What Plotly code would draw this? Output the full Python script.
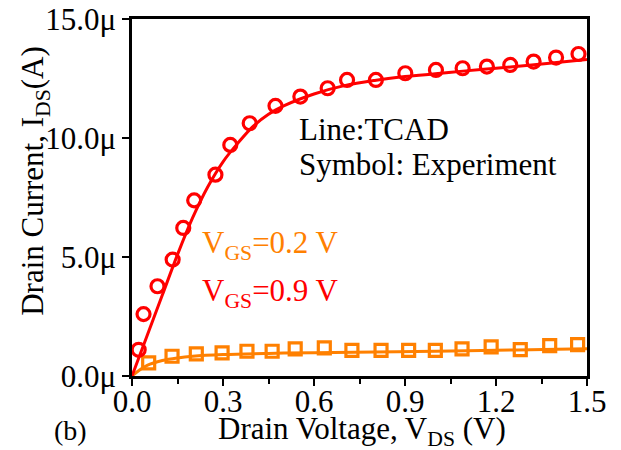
import plotly.graph_objects as go

# Experimental data (symbols)
vds_exp_09 = [0.022, 0.038, 0.084, 0.134, 0.169, 0.205, 0.275, 0.324, 0.388, 0.473, 0.555,
              0.645, 0.709, 0.804, 0.901, 1.002, 1.09, 1.17, 1.247, 1.324, 1.398, 1.472]
ids_exp_09 = [1.1, 2.6, 3.77, 4.89, 6.22, 7.38, 8.46, 9.71, 10.62, 11.35, 11.74,
              12.09, 12.44, 12.44, 12.72, 12.86, 12.93, 13.0, 13.07, 13.21, 13.38, 13.53]

vds_exp_02 = [0.055, 0.132, 0.212, 0.297, 0.379, 0.462, 0.538, 0.634, 0.725,
              0.821, 0.912, 1.0, 1.088, 1.184, 1.28, 1.377, 1.469]
ids_exp_02 = [0.55, 0.83, 0.93, 0.97, 1.04, 1.04, 1.14, 1.18, 1.08,
              1.08, 1.08, 1.08, 1.14, 1.22, 1.11, 1.28, 1.32]

# TCAD (lines)
vds_tcad_09 = [0, 0.05, 0.1, 0.15, 0.2, 0.25, 0.3, 0.35, 0.4, 0.45, 0.5, 0.6, 0.7,
               0.8, 0.9, 1.0, 1.1, 1.2, 1.3, 1.4, 1.5]
ids_tcad_09 = [0, 1.7, 3.4, 5.1, 6.65, 7.95, 9.0, 9.8, 10.5, 11.0, 11.35, 11.85, 12.2,
               12.42, 12.58, 12.7, 12.82, 12.93, 13.05, 13.17, 13.3]

vds_tcad_02 = [0, 0.025, 0.05, 0.1, 0.15, 0.2, 0.3, 0.45, 0.6, 0.8, 1.0, 1.2, 1.4, 1.5]
ids_tcad_02 = [0, 0.25, 0.45, 0.65, 0.76, 0.83, 0.9, 0.95, 0.98, 1.01, 1.04, 1.08, 1.12, 1.14]

x_ticks = [0.0, 0.3, 0.6, 0.9, 1.2, 1.5]
x_tick_labels = ["0.0", "0.3", "0.6", "0.9", "1.2", "1.5"]
y_ticks = [0, 5, 10, 15]
y_tick_labels = ["0.0\u03bc", "5.0\u03bc", "10.0\u03bc", "15.0\u03bc"]

RED = "#FF0000"
ORANGE = "#FF8000"
FONT = "Liberation Serif, Times New Roman, serif"
FS = 31

fig = go.Figure()
fig.add_trace(go.Scatter(x=vds_tcad_02, y=ids_tcad_02, mode="lines", line=dict(color=ORANGE, width=3, shape="spline"), showlegend=False))
fig.add_trace(go.Scatter(x=vds_tcad_09, y=ids_tcad_09, mode="lines", line=dict(color=RED, width=3, shape="spline"), showlegend=False))
fig.add_trace(go.Scatter(x=vds_exp_02, y=ids_exp_02, mode="markers", cliponaxis=False,
                         marker=dict(symbol="square-open", size=12, color=ORANGE, line=dict(width=3.2, color=ORANGE)), showlegend=False))
fig.add_trace(go.Scatter(x=vds_exp_09, y=ids_exp_09, mode="markers", cliponaxis=False,
                         marker=dict(symbol="circle-open", size=13, color=RED, line=dict(width=3.2, color=RED)), showlegend=False))

axis_common = dict(showgrid=False, zeroline=False, showline=True, linecolor="black", linewidth=2.5,
                   mirror=True, ticks="outside", tickcolor="black", tickwidth=2, ticklen=7, automargin=False,
                   tickfont=dict(family=FONT, size=FS, color="black"))

fig.update_xaxes(range=[0, 1.5], tickvals=x_ticks, ticktext=x_tick_labels, ticklabelstandoff=-11,
                 minor=dict(dtick=0.15, ticks="outside", ticklen=5, tickwidth=2, tickcolor="black"),
                 **axis_common)
fig.update_yaxes(range=[0, 15], tickvals=y_ticks, ticktext=y_tick_labels, **axis_common)

title_font = dict(family=FONT, size=FS, color="black")
fig.add_annotation(x=0.5055, y=-0.153, xref="paper", yref="paper", text="Drain Voltage, V<sub>DS</sub> (V)",
                   showarrow=False, xanchor="center", yanchor="middle", font=title_font)
fig.add_annotation(x=-0.213, y=0.547, xref="paper", yref="paper", text="Drain Current, I<sub>DS</sub>(A)",
                   showarrow=False, xanchor="center", yanchor="middle", textangle=-90, font=title_font)

ann_font = dict(family=FONT, size=FS, color="black")
fig.add_annotation(x=0.545, y=10.34, xref="x", yref="y", text="Line:TCAD", showarrow=False, xanchor="left", yanchor="middle", font=ann_font)
fig.add_annotation(x=0.545, y=8.87, xref="x", yref="y", text="Symbol: Experiment", showarrow=False, xanchor="left", yanchor="middle", font=ann_font)
fig.add_annotation(x=0.225, y=5.52, xref="x", yref="y", text="V<sub>GS</sub>=0.2 V", showarrow=False, xanchor="left", yanchor="middle",
                   font=dict(family=FONT, size=FS, color=ORANGE))
fig.add_annotation(x=0.225, y=3.5, xref="x", yref="y", text="V<sub>GS</sub>=0.9 V", showarrow=False, xanchor="left", yanchor="middle",
                   font=dict(family=FONT, size=FS, color=RED))
fig.add_annotation(x=-0.175, y=-0.152, xref="paper", yref="paper", text="(b)", showarrow=False, xanchor="left", yanchor="middle",
                   font=dict(family=FONT, size=28, color="black"))

fig.update_layout(width=621, height=450, margin=dict(l=132, r=34, t=19, b=74),
                  paper_bgcolor="white", plot_bgcolor="white")
fig.write_html("out.html", config={"displayModeBar": False},
               post_script="document.body.style.margin='0';document.body.style.padding='0';")
